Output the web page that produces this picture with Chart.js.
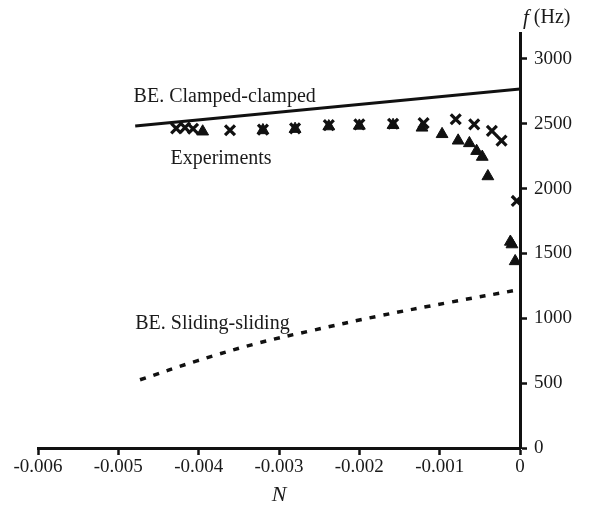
<!DOCTYPE html>
<html>
<head>
<meta charset="utf-8">
<script src="https://cdn.jsdelivr.net/npm/chart.js@4/dist/chart.umd.min.js"></script>
<style>
  html, body { margin: 0; padding: 0; background: #fff; }
  #wrap { width: 590px; height: 510px; }
</style>
</head>
<body>
<div id="wrap"><canvas id="c" width="590" height="510"></canvas></div>
<script>
// Axis tick values
const xTicks = [-0.006, -0.005, -0.004, -0.003, -0.002, -0.001, 0];
const yTicks = [0, 500, 1000, 1500, 2000, 2500, 3000];

// Beam-theory prediction, clamped-clamped ends
const clampedN = [-0.00479, 0];
const clampedF = [2482, 2768];

// Beam-theory prediction, sliding-sliding ends
const slidingN = [-0.00473, -0.00402, -0.00324, -0.00258, -0.00178, -0.00087, 0];
const slidingF = [526, 672, 812, 907, 1015, 1124, 1222];

// Measured frequencies, first test set (crosses)
const crossN = [-0.00428, -0.00417, -0.00407, -0.00361, -0.00320, -0.00280, -0.00238, -0.00200,
                -0.00158, -0.00120, -0.00080, -0.00057, -0.00035, -0.00023, -0.00004];
const crossF = [2465, 2470, 2462, 2450, 2455, 2465, 2490, 2495,
                2500, 2505, 2535, 2495, 2445, 2370, 1905];

// Measured frequencies, second test set (triangles)
const triN = [-0.00395, -0.00320, -0.00280, -0.00238, -0.00200, -0.00158, -0.00122, -0.00097,
              -0.00077, -0.00063, -0.00054, -0.00047, -0.00040, -0.00012, -0.00010, -0.00006];
const triF = [2440, 2450, 2460, 2480, 2485, 2490, 2470, 2420,
              2370, 2350, 2290, 2245, 2095, 1590, 1570, 1440];

const pts = (xs, ys) => xs.map((x, i) => ({ x: x, y: ys[i] }));

const SERIF = '"Liberation Serif", "Times New Roman", serif';
const INK = '#1a1a1a';

// Free-standing text: curve labels and the f (Hz) axis caption
const textPlugin = {
  id: 'curveText',
  afterDraw(chart) {
    const { ctx, scales: { x, y }, chartArea } = chart;
    ctx.save();
    ctx.fillStyle = INK;
    ctx.textBaseline = 'middle';
    ctx.textAlign = 'left';
    ctx.font = '20px ' + SERIF;
    const notes = [
      { text: 'BE. Clamped-clamped', n: -0.00481, f: 2705 },
      { text: 'Experiments', n: -0.00435, f: 2228 },
      { text: 'BE. Sliding-sliding', n: -0.00479, f: 955 }
    ];
    notes.forEach(o => ctx.fillText(o.text, x.getPixelForValue(o.n), y.getPixelForValue(o.f)));

    // f (Hz) above the frequency axis
    const bx = chartArea.right + 3, by = 18;
    ctx.font = 'italic 21px ' + SERIF;
    ctx.fillText('f', bx, by);
    const w = ctx.measureText('f').width;
    ctx.font = '20px ' + SERIF;
    ctx.fillText(' (Hz)', bx + w, by);
    ctx.restore();
  }
};

new Chart(document.getElementById('c'), {
  type: 'scatter',
  data: {
    datasets: [
      {
        label: 'BE. Clamped-clamped',
        data: pts(clampedN, clampedF),
        showLine: true,
        borderColor: '#111',
        borderWidth: 3,
        pointRadius: 0,
        fill: false
      },
      {
        label: 'BE. Sliding-sliding',
        data: pts(slidingN, slidingF),
        showLine: true,
        borderColor: '#111',
        borderWidth: 3.5,
        borderDash: [6, 8],
        tension: 0.4,
        pointRadius: 0,
        fill: false
      },
      {
        label: 'Experiments (triangles)',
        data: pts(triN, triF),
        pointStyle: 'triangle',
        pointRadius: 6.8,
        backgroundColor: '#111',
        borderColor: '#111',
        borderWidth: 1
      },
      {
        label: 'Experiments (crosses)',
        data: pts(crossN, crossF),
        pointStyle: 'crossRot',
        pointRadius: 7,
        borderColor: '#111',
        borderWidth: 3.2
      }
    ]
  },
  options: {
    responsive: false,
    animation: false,
    devicePixelRatio: 1,
    layout: { padding: { top: 33, left: 38, right: 0, bottom: 0 } },
    plugins: {
      legend: { display: false },
      tooltip: { enabled: false }
    },
    scales: {
      x: {
        type: 'linear',
        position: 'bottom',
        min: -0.006,
        max: 0,
        afterBuildTicks: s => { s.ticks = xTicks.map(v => ({ value: v })); },
        afterFit: s => { s.height = 62; },
        border: { display: true, color: '#111', width: 3 },
        grid: { drawOnChartArea: false, drawTicks: true, tickLength: 7, tickColor: '#111', tickWidth: 2.5 },
        ticks: {
          color: INK,
          font: { family: SERIF, size: 19 },
          padding: 1,
          maxRotation: 0,
          callback: v => (v === 0 ? '0' : v.toFixed(3))
        },
        title: {
          display: true,
          text: 'N',
          color: INK,
          font: { family: SERIF, size: 22, style: 'italic' },
          padding: { top: 0, bottom: 2 }
        }
      },
      y: {
        type: 'linear',
        position: 'right',
        min: 0,
        max: 3200,
        afterBuildTicks: s => { s.ticks = yTicks.map(v => ({ value: v })); },
        afterFit: s => { s.width = 70; },
        border: { display: true, color: '#111', width: 3 },
        grid: { drawOnChartArea: false, drawTicks: true, tickLength: 7, tickColor: '#111', tickWidth: 2.5 },
        ticks: {
          color: INK,
          font: { family: SERIF, size: 19 },
          padding: 7,
          callback: v => String(v)
        }
      }
    }
  },
  plugins: [textPlugin]
});
</script>
</body>
</html>
